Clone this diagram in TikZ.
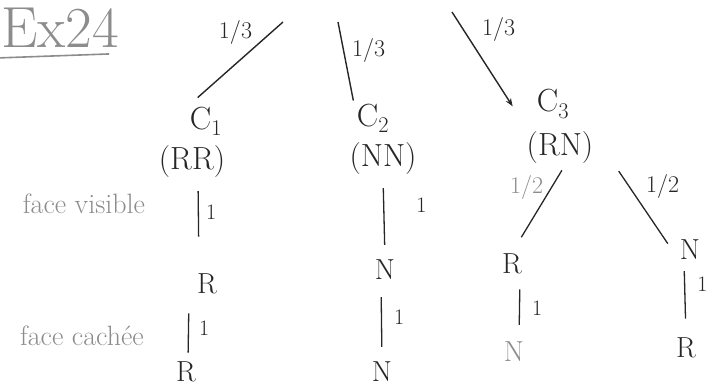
\documentclass[tikz,border=0pt]{standalone}
\usetikzlibrary{arrows.meta,calc}
\begin{document}
\begin{tikzpicture}[x=1pt,y=-1pt,
  ink/.style={black!85},
  pencil/.style={black!45},
  big/.style={font=\fontsize{32}{34}\selectfont, inner sep=1pt, ink},
  lvl/.style={font=\fontsize{29}{31}\selectfont, inner sep=1pt, ink},
  prob/.style={font=\fontsize{24}{26}\selectfont, inner sep=2pt, ink},
  one/.style={font=\fontsize{22}{24}\selectfont, inner sep=2pt, ink},
  side/.style={font=\fontsize{28}{30}\selectfont, pencil},
  branch/.style={draw, line width=1.4pt, ink},
  stem/.style={draw, line width=1.3pt, ink}]
\useasboundingbox (0,0) rectangle (720,388);

% title
\node[font=\fontsize{58}{60}\selectfont, pencil, inner sep=0pt] (title) at (60,28) {Ex24};
\draw[pencil, line width=1.6pt] ([xshift=-3pt,yshift=-10pt]title.south west) -- ([xshift=-10pt,yshift=-6pt]title.south east);

% side labels
\node[side] (fv) at (84,204) {face visible};
\node[side] (fc) at (82,336) {face cachée};

% level 1
\node[big] (c1) at (206,121) {C\textsubscript{1}};
\node[big] (rr) at (192,162) {(RR)};
\node[big] (c2) at (373,118) {C\textsubscript{2}};
\node[big] (nn) at (383,159) {(NN)};
\node[big] (c3) at (553,104) {C\textsubscript{3}};
\node[big] (rn) at (560,148) {(RN)};

% start points of the first branches
\coordinate (a1) at (283,22);
\coordinate (a2) at (338,22);
\coordinate (a3) at (452,12);

\draw[branch, shorten >=12pt] (a1) -- (c1.north west) node[prob, pos=.3, above left=0pt] {1/3};
\draw[branch, shorten >=2pt] (a2) -- ([xshift=-2pt]c2.north west) node[prob, pos=.35, right=6pt] {1/3};
\draw[branch, -{Stealth[length=8pt]}, shorten >=2pt] (a3) -- ([xshift=-22pt,yshift=-4pt]c3.west) node[prob, pos=.38, above right=4pt] {1/3};

% level 2 nodes
\node[lvl] (r1) at (207,284) {R};
\node[lvl] (n2) at (385,270) {N};
\node[lvl] (r3) at (512,264) {R};
\node[lvl] (n3) at (690,250) {N};

\draw[stem, shorten <=12pt, shorten >=36pt] ([xshift=6pt]rr.south) -- ([xshift=-8pt]r1.north) node[one, pos=.35, right=5pt] {1};
\draw[stem, shorten <=12pt, shorten >=14pt] (nn.south) -- (n2.north) node[one, pos=.35, right=30pt] {1};
\draw[stem, shorten <=6pt, shorten >=18pt] ([xshift=5pt]rn.south) -- (r3.north) node[prob, pencil, pos=.25, left=6pt] {1/2};
\draw[stem, shorten <=12pt, shorten >=4pt] ([xshift=52pt,yshift=4pt]rn.south) -- ([xshift=-20pt,yshift=-8pt]n3.north) node[prob, pos=.3, right=14pt] {1/2};

% level 3 nodes
\node[lvl] (r1b) at (186,372) {R};
\node[lvl] (n2b) at (382,372) {N};
\node[lvl, pencil] (n3b) at (514,352) {N};
\node[lvl] (r3b) at (686,348) {R};

\draw[stem, shorten <=18pt, shorten >=8pt] ([xshift=-18pt]r1.south) -- ([xshift=2pt]r1b.north) node[one, pos=.5, right=8pt] {1};
\draw[stem, shorten <=16pt, shorten >=14pt] ([xshift=-4pt]n2.south) -- (n2b.north) node[one, pos=.45, right=10pt] {1};
\draw[stem, shorten <=14pt, shorten >=16pt] ([xshift=8pt]r3.south) -- ([xshift=5pt]n3b.north) node[one, pos=.5, right=10pt] {1};
\draw[stem, shorten <=10pt, shorten >=18pt] ([xshift=-6pt]n3.south) -- (r3b.north) node[one, pos=.3, right=10pt] {1};
\end{tikzpicture}
\end{document}
